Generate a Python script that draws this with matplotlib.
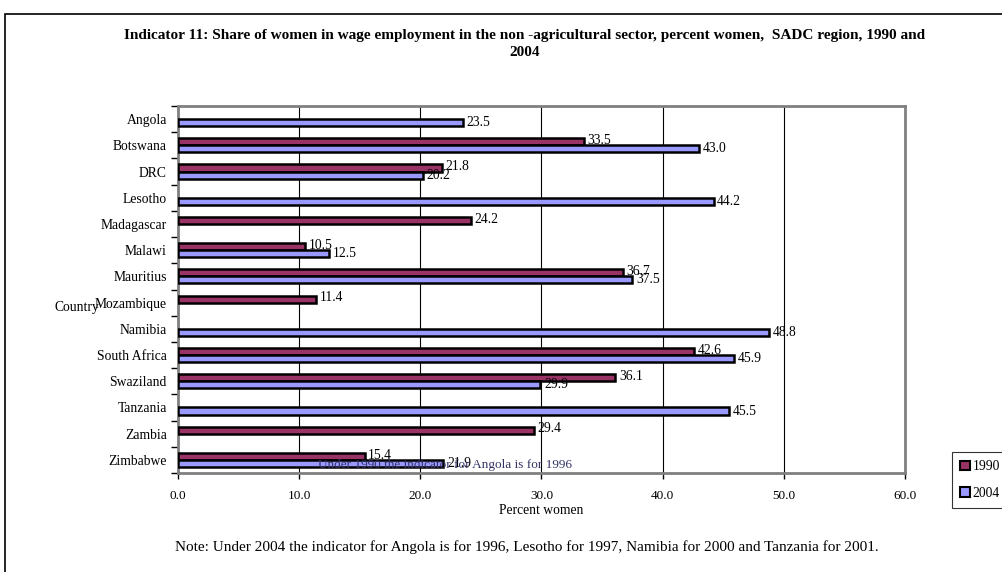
import matplotlib.pyplot as plt
import matplotlib.patches as mpatches
import numpy as np

countries = ['Angola', 'Botswana', 'DRC', 'Lesotho', 'Madagascar', 'Malawi',
             'Mauritius', 'Mozambique', 'Namibia', 'South Africa', 'Swaziland',
             'Tanzania', 'Zambia', 'Zimbabwe']
v1990 = [None, 33.5, 21.8, None, 24.2, 10.5, 36.7, 11.4, None, 42.6, 36.1, None, 29.4, 15.4]
v2004 = [23.5, 43.0, 20.2, 44.2, None, 12.5, 37.5, None, 48.8, 45.9, 29.9, 45.5, None, 21.9]

plt.rcParams['font.family'] = ['Liberation Serif', 'DejaVu Serif']

fig = plt.figure(figsize=(10.03, 5.72), dpi=100)
W, H = 1003, 572
ax = fig.add_axes([178 / W, 1 - 473 / H, (905 - 178) / W, (473 - 106) / H])

# outer frame
fig.patches.append(mpatches.Rectangle((5 / W, -0.05), 1.1, 1 - 14 / H + 0.05,
                                      transform=fig.transFigure, fill=False,
                                      edgecolor='black', lw=1.2))

y = np.arange(len(countries))
h = 0.27
c1990 = '#993366'
c2004 = '#9999FF'

for i, (a, b) in enumerate(zip(v1990, v2004)):
    if a is not None:
        ax.barh(i - h / 2, a, height=h, color=c1990, edgecolor='black', lw=1.8, zorder=3)
        ax.text(a + 0.3, i - h / 2 - 0.05, f'{a:.1f}', va='center', ha='left', fontsize=9.8, zorder=4)
    if b is not None:
        ax.barh(i + h / 2, b, height=h, color=c2004, edgecolor='black', lw=1.8, zorder=3)
        ax.text(b + 0.3, i + h / 2, f'{b:.1f}', va='center', ha='left', fontsize=9.8, zorder=4)

ax.set_xlim(0, 60)
ax.set_ylim(len(countries) - 0.5, -0.5)
ax.set_xticks(np.arange(0, 61, 10))
ax.set_xticklabels([f'{t:.1f}' for t in np.arange(0, 61, 10)], fontsize=9.5)
ax.set_yticks(y)
ax.set_yticklabels(countries, fontsize=9.8)
ax.set_yticks(np.arange(-0.5, len(countries), 1), minor=True)
ax.tick_params(axis='y', which='major', length=0, pad=8)
ax.tick_params(axis='y', which='minor', length=5, width=1, direction='out')
ax.tick_params(axis='x', length=4, width=1, direction='out', pad=8)
ax.grid(axis='x', color='black', lw=0.8, zorder=0)
for s in ax.spines.values():
    s.set_color('#808080')
    s.set_linewidth(2)

ax.set_xlabel('Percent women', fontsize=9.8, labelpad=2)
fig.text(55 / W, 1 - 307 / H, 'Country', fontsize=9.8, va='center', ha='left')

fig.text(525 / W, 1 - 35 / H,
         'Indicator 11: Share of women in wage employment in the non -agricultural sector, percent women,  SADC region, 1990 and',
         fontsize=11, fontweight='bold', ha='center', va='center')
fig.text(525 / W, 1 - 53 / H, '2004', fontsize=11, fontweight='bold', ha='center', va='center')

fig.text(318 / W, 1 - 465 / H, 'Under 1990 the indicator for Angola is for 1996',
         fontsize=9.5, color='#333366', ha='left', va='center', zorder=10)
fig.text(527 / W, 1 - 547 / H,
         'Note: Under 2004 the indicator for Angola is for 1996, Lesotho for 1997, Namibia for 2000 and Tanzania for 2001.',
         fontsize=11, ha='center', va='center')

handles = [mpatches.Patch(facecolor=c1990, edgecolor='black', lw=1.5, label='1990'),
           mpatches.Patch(facecolor=c2004, edgecolor='black', lw=1.5, label='2004')]
leg = fig.legend(handles=handles, loc='upper left', bbox_to_anchor=(952 / W, 1 - 452 / H),
                 frameon=True, fancybox=False, edgecolor='black', fontsize=9.8,
                 handlelength=0.7, handleheight=0.7, handletextpad=0.2,
                 borderpad=0.6, labelspacing=1.0, borderaxespad=0)
leg.get_frame().set_linewidth(0.8)

fig.savefig('out.png', dpi=100)
